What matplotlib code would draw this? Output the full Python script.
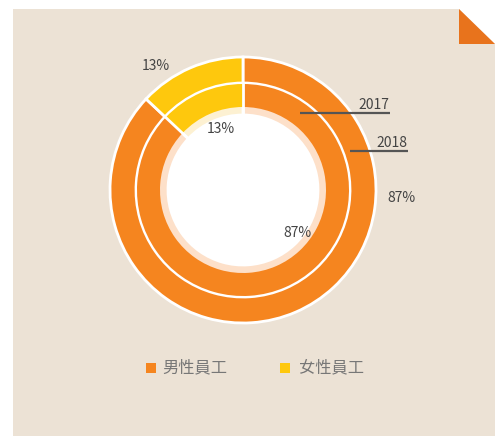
import matplotlib
matplotlib.use("Agg")
import numpy as np
import matplotlib.pyplot as plt
from matplotlib.patches import Polygon, Circle, Rectangle

plt.rcParams['font.family'] = ['Noto Sans CJK TC', 'DejaVu Sans']

# Data
categories = ['男性員工', '女性員工']
years = ['2017', '2018']
share_2017 = [87, 13]
share_2018 = [87, 13]
colors = ['#f5851f', '#fec80d']
tints = ['#fde0c9', '#fdf1d2']

W, H = 497, 436
fig = plt.figure(figsize=(W / 100, H / 100), dpi=100)
ax = fig.add_axes([0, 0, 1, 1])

def Y(y):
    return H - y

# Paper panel with a folded corner
panel_col = '#ece2d5'
ax.add_patch(Polygon([(13, Y(9)), (459, Y(9)), (495, Y(44)), (495, Y(436)), (13, Y(436))],
                     closed=True, facecolor=panel_col, edgecolor='none', zorder=0))
ax.add_patch(Polygon([(459, Y(9)), (459, Y(44)), (495, Y(44))], closed=True,
                     facecolor='#e8731c', edgecolor='none', zorder=1))

cx, cy = 243, Y(190)

# Outer ring: 2018
ax.pie(share_2018, radius=133, center=(cx, cy), startangle=90, counterclock=False,
       colors=colors, wedgeprops=dict(width=26, edgecolor='white', linewidth=2))

# Inner ring: 2017, with a pale inner band
ax.pie(share_2017, radius=106, center=(cx, cy), startangle=90, counterclock=False,
       colors=tints, wedgeprops=dict(width=31, edgecolor='white', linewidth=2))
ax.pie(share_2017, radius=106, center=(cx, cy), startangle=90, counterclock=False,
       colors=colors, wedgeprops=dict(width=23, edgecolor='none', linewidth=0))
bounds = 90 - 360 * np.cumsum([0] + share_2017[:-1]) / sum(share_2017)
for a in np.radians(bounds):
    ax.plot([cx + 75 * np.cos(a), cx + 107 * np.cos(a)],
            [cy + 75 * np.sin(a), cy + 107 * np.sin(a)],
            color='white', lw=2, zorder=5, solid_capstyle='butt')
ax.add_patch(Circle((cx, cy), 75.5, facecolor='white', edgecolor='none', zorder=4))

txt = '#444444'
fs = 10
ax.text(156, Y(66), f'{share_2018[1]}%', fontsize=fs, color=txt, ha='center', va='center', zorder=6)
ax.text(401, Y(198), f'{share_2018[0]}%', fontsize=fs, color=txt, ha='center', va='center', zorder=6)
ax.text(221, Y(129), f'{share_2017[1]}%', fontsize=fs, color=txt, ha='center', va='center', zorder=6)
ax.text(297, Y(233), f'{share_2017[0]}%', fontsize=fs, color=txt, ha='center', va='center', zorder=6)

# Year callouts
line_col = '#555555'
ax.plot([300, 390], [Y(113), Y(113)], color=line_col, lw=1.6, zorder=6, solid_capstyle='butt')
ax.text(389, Y(105), years[0], fontsize=fs, color=txt, ha='right', va='center', zorder=6)
ax.plot([350, 408], [Y(151), Y(151)], color=line_col, lw=1.6, zorder=6, solid_capstyle='butt')
ax.text(407, Y(143), years[1], fontsize=fs, color=txt, ha='right', va='center', zorder=6)

# Legend
square_x = [146, 280]
label_x = [162, 299]
for x0, xt, c, lab in zip(square_x, label_x, colors, categories):
    ax.add_patch(Rectangle((x0, Y(373)), 10, 10, facecolor=c, edgecolor='none', zorder=6))
    ax.text(xt, Y(368), lab, fontsize=11.7, color='#777777', ha='left', va='center', zorder=6)

ax.set_xlim(0, W)
ax.set_ylim(0, H)
ax.set_aspect('auto')
ax.axis('off')
fig.savefig('out.png', dpi=100, facecolor='white')
